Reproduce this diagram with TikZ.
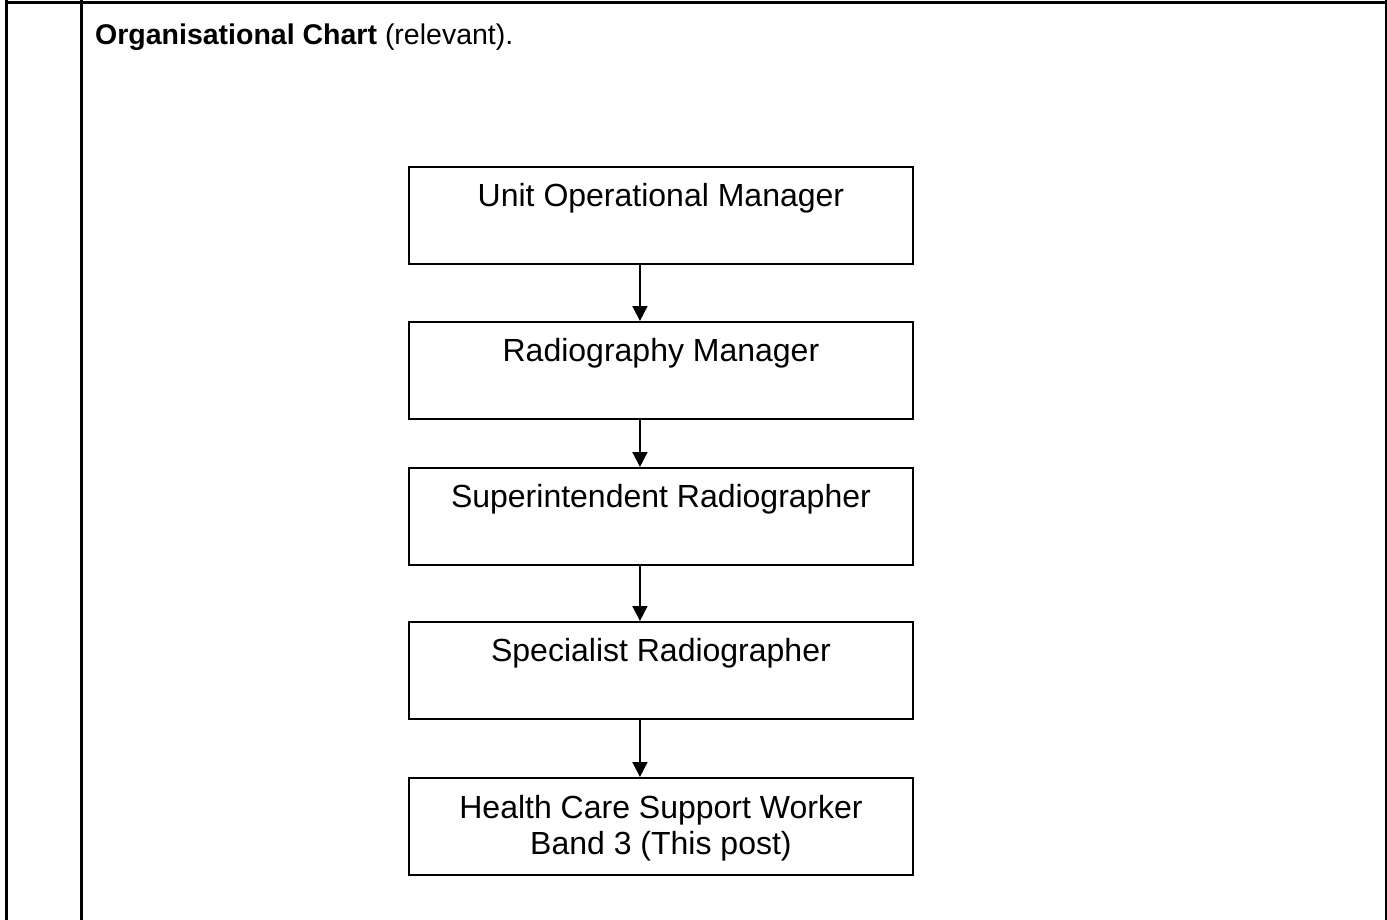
\documentclass[tikz,border=0pt]{standalone}
\usepackage{fontspec}
\setmainfont{Liberation Sans}
\usetikzlibrary{arrows.meta}
\begin{document}
\begin{tikzpicture}[x=1pt,y=-1pt,
  tbl/.style={line width=3pt},
  orgbox/.style={draw, line width=1.9pt, anchor=north west, minimum width=504pt,
    inner xsep=0pt, inner ysep=0pt, text height=40pt, text depth=57pt,
    align=center, font=\fontsize{32}{36}\selectfont},
  arr/.style={line width=1.7pt, -{Triangle[width=15pt,length=15pt]}}]
\useasboundingbox (0,0) rectangle (1387,920);
\fill[white] (0,0) rectangle (1387,920);
% table frame
\draw[tbl] (6,0) -- (6,920);
\draw[tbl] (81,0) -- (81,920);
\draw[tbl] (1386,0) -- (1386,920);
\draw[tbl] (6,3) -- (1386,3);
% title
\node[anchor=base west, inner sep=0pt, font=\fontsize{28.5}{34}\selectfont] (title) at (95,45)
  {\textbf{Organisational Chart} (relevant).};
% boxes
\node[orgbox] (b1) at (408,166) {Unit Operational Manager};
\node[orgbox] (b2) at (408,321) {Radiography Manager};
\node[orgbox] (b3) at (408,467) {Superintendent Radiographer};
\node[orgbox] (b4) at (408,621) {Specialist Radiographer};
\node[orgbox, text height=77pt, text depth=20pt] (b5) at (408,777) {Health Care Support Worker\\Band 3 (This post)};
% connectors
\draw[arr] ([xshift=-21pt]b1.south) -- ([xshift=-21pt]b2.north);
\draw[arr] ([xshift=-21pt]b2.south) -- ([xshift=-21pt]b3.north);
\draw[arr] ([xshift=-21pt]b3.south) -- ([xshift=-21pt]b4.north);
\draw[arr] ([xshift=-21pt]b4.south) -- ([xshift=-21pt]b5.north);
\end{tikzpicture}
\end{document}
